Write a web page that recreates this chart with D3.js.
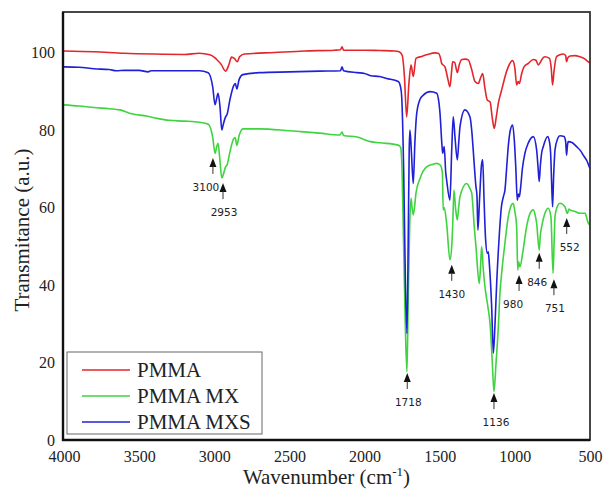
<!DOCTYPE html>
<html lang="en">
<head>
<meta charset="UTF-8">
<title>FTIR PMMA</title>
<script src="https://cdn.jsdelivr.net/npm/d3@7"></script>
<style>
    body { margin: 0; background: #fff; }
</style>
</head>
<body>
<svg width="605" height="490"></svg>
<script>

    // series: wavenumber (cm-1) and transmittance
    const pmmaWave = [4000,3800,3600,3400,3200,3100,3030,2995,2984,2955,2925,2905,2885,2865,2847,2832,2800,2600,2400,2200,2160,2150,2140,2000,1900,1800,1770,1750,1735,1720,1705,1691,1676,1658,1620,1587,1530,1510,1495,1487,1465,1445,1432,1420,1414,1400,1383,1370,1354,1330,1310,1290,1265,1243,1228,1214,1200,1183,1165,1150,1137,1125,1110,1090,1077,1060,1044,1015,1000,988,978,970,955,939,910,877,860,844,830,822,800,770,758,749,740,723,700,678,662,656,648,633,600,567,540,511,500]
    const pmmaT    = [100.4,100.2,99.8,99.6,99.5,99.8,99.4,98.6,98.2,97.0,95.2,96.6,98.8,98.4,97.6,98.9,99.6,100.0,100.4,100.6,100.7,101.5,100.6,100.6,100.5,100.4,100.2,99.3,94,83.4,92,96.8,93.8,98.5,99.0,99.4,99.9,99.8,98.6,97.2,96.3,93,91.2,95.5,97.6,97.4,94.8,96.8,98.2,98.3,98.1,96,92.5,92.0,93.5,94.6,91,87.7,87.3,83,80.4,83,86.9,90,92.0,94.5,96.3,97.9,96,91.6,92.5,92.0,94.5,96.3,97.2,98.2,98,96.8,97.5,98.1,98.9,98.5,96,91.6,95,98.9,99.4,99.6,99.2,97.6,98.6,99.1,99.2,98.9,98.5,97.6,97.3]

    const mxWave = [4000,3900,3800,3700,3627,3550,3450,3380,3300,3200,3100,3040,3010,2995,2985,2975,2962,2950,2940,2925,2915,2895,2870,2860,2850,2835,2810,2700,2500,2430,2300,2165,2150,2140,2050,2000,1960,1897,1776,1760,1753,1740,1728,1718,1710,1700,1691,1684,1676,1665,1658,1631,1587,1540,1520,1498,1490,1482,1477,1470,1454,1432,1420,1414,1405,1395,1383,1374,1365,1321,1300,1287,1270,1258,1237,1228,1221,1210,1199,1183,1176,1165,1150,1139,1125,1110,1099,1088,1066,1044,1025,1011,1000,988,981,975,966,948,922,899,877,862,855,838,830,822,800,778,760,746,738,733,715,700,667,651,640,633,600,567,533,511,500]
    const mxT    = [86.5,86.2,85.8,85.5,85.2,84.2,83.6,83.0,82.5,82.3,82,81.5,78,74,75.5,76.6,72,67.6,68.5,70.5,71,74.5,77.8,78,76,78.5,80.3,80.3,79.8,79.6,79.2,78.7,79.5,78.6,78.2,77.5,77.0,76.7,76.1,75.5,72,50,28,17.6,35,55,62.4,60,58.1,61,63.7,67.5,70.5,71.2,71.4,71.0,70.5,68.8,59.4,60,55.9,46.5,50,55.0,64.5,60,56.8,60,62.8,66.2,65,63.7,55,49.5,40.4,45,49.9,44,39.6,35.3,33.5,30,20,12.5,20,29.2,38,43,50.8,57.6,60.5,61.1,59,55,43.9,46,44.7,48.2,55,58.5,59.4,57.5,55.9,49,53,55,58.5,59.8,57.6,43,52,57.6,60.5,61.1,60.2,58.5,59.6,59.4,59,58.5,58.5,55.9,55.5]

    const mxsWave = [4000,3900,3800,3700,3650,3600,3500,3440,3420,3300,3100,3040,3010,2995,2985,2975,2962,2950,2940,2925,2915,2895,2870,2860,2850,2835,2810,2700,2500,2300,2160,2150,2140,2050,2000,1960,1900,1853,1776,1760,1753,1740,1728,1718,1710,1703,1698,1688,1676,1665,1653,1630,1609,1565,1520,1505,1498,1485,1480,1470,1460,1454,1432,1420,1410,1398,1383,1373,1365,1332,1299,1285,1277,1259,1252,1246,1235,1222,1214,1205,1195,1183,1177,1170,1155,1143,1132,1121,1105,1090,1075,1066,1055,1044,1030,1015,1003,993,984,977,970,962,950,933,911,877,855,845,838,830,822,811,782,770,762,755,749,742,733,715,700,673,662,656,650,645,620,589,560,545,520,505,500]
    const mxsT    = [96.3,96.2,95.8,95.6,95.3,95.4,95.4,95.0,95.3,95.3,95.3,94.8,91,86.5,88,89.5,86,80,81.5,83.4,84,88,91.5,92,90.6,93,94.3,94.8,95.0,95.2,95.3,96.3,95.3,94.8,94.6,94.0,93.8,93.3,92.5,91,88.6,70,40,27.5,50,75,80,74,66.2,77,84.3,88,89,89.9,89.5,87,84.3,76,74,75.7,69,67.1,61.9,75,83.4,78,72.3,77,80.9,85.2,83.4,79,74.8,65.4,63,54.2,62,71,72.3,62,52,48.2,48.6,45.6,35,22.4,30,40.4,52,60,63,64.5,70,75.7,80,81.3,77,69.7,61.9,63.5,62.8,65,70,74,76.6,78.3,74.8,70,66.7,71,74,75.7,78.3,77,74,66,60.2,68,74.8,77.8,78.5,78.3,77,73.5,76,77,76.8,75.7,74.5,73.5,72,70.5,70]

    const seriesNames = ["PMMA", "PMMA MX", "PMMA MXS"]
    const seriesColors = ["#e3262b", "#3fd43f", "#2020d6"]

    // band labels with the arrow tip position (wavenumber, transmittance)
    const bandLabels = ["3100","2953","1718","1136","1430","980","846","751","552"]
    const bandWave   = [3009,2942,1716,1139,1420,972,838,740,655]
    const bandTip    = [72.8,66.3,17.3,12.1,45.2,42.6,48.3,41.5,57.3]
    const bandShift  = [-7,1,1,2,0,-6,-2,1,3]

    const xTicks = [4000,3500,3000,2500,2000,1500,1000,500]
    const yTicks = [0,20,40,60,80,100]

    const svg = d3.select("svg")
    const pLeft = 63, pRight = 590, pTop = 12, pBottom = 440

    const x = d3.scaleLinear().domain([4000, 500]).range([64, 590])
    const y = d3.scaleLinear().domain([0, 110.3]).range([pBottom, 12.6])

    const serif = "'Liberation Serif', 'Times New Roman', serif"

    // axes (labels only, no tick marks)
    const xAxis = svg.append("g")
        .attr("transform", `translate(0,${pBottom})`)
        .call(d3.axisBottom(x).tickValues(xTicks).tickSize(0).tickPadding(11).tickFormat(d3.format("d")))
    const yAxis = svg.append("g")
        .attr("transform", `translate(${pLeft},0)`)
        .call(d3.axisLeft(y).tickValues(yTicks).tickSize(0).tickPadding(8))
    for (const ax of [xAxis, yAxis]) {
        ax.select(".domain").remove()
        ax.selectAll("text").attr("font-family", serif).attr("font-size", 16).attr("fill", "#222")
    }

    const line = d3.line()
        .x(d => x(d[0]))
        .y(d => y(d[1]))
        .curve(d3.curveMonotoneX)

    const zipped = [
        d3.zip(pmmaWave, pmmaT),
        d3.zip(mxWave, mxT),
        d3.zip(mxsWave, mxsT)
    ]
    const plot = svg.append("g")
    // green first, then red, blue on top
    ;[1, 0, 2].forEach(i => {
        plot.append("path")
            .attr("d", line(zipped[i]))
            .attr("fill", "none")
            .attr("stroke", seriesColors[i])
            .attr("stroke-width", 1.6)
            .attr("stroke-linejoin", "round")
    })

    // frame
    svg.append("rect")
        .attr("x", pLeft).attr("y", pTop)
        .attr("width", pRight - pLeft).attr("height", pBottom - pTop)
        .attr("fill", "none").attr("stroke", "#333").attr("stroke-width", 1.8)
    svg.append("path")
        .attr("d", `M${pLeft},${pTop}V${pBottom}H${pRight}`)
        .attr("fill", "none").attr("stroke", "#111").attr("stroke-width", 2.4)

    // band arrows
    const bands = svg.append("g")
    bandLabels.forEach((lab, i) => {
        const bx = x(bandWave[i]), by = y(bandTip[i])
        const g = bands.append("g").attr("transform", `translate(${bx},${by})`)
        g.append("path").attr("d", "M0,0L-3.5,9L3.5,9Z").attr("fill", "#111")
        g.append("line").attr("x1", 0).attr("x2", 0).attr("y1", 8).attr("y2", 16)
            .attr("stroke", "#333").attr("stroke-width", 1)
        g.append("text")
            .attr("x", bandShift[i]).attr("y", 29)
            .attr("dy", "0.35em")
            .attr("text-anchor", "middle")
            .attr("font-family", "'DejaVu Sans', Verdana, sans-serif")
            .attr("font-size", 10.5)
            .attr("fill", "#222")
            .text(lab)
    })

    // legend
    const legend = svg.append("g")
    legend.append("rect")
        .attr("x", 67).attr("y", 352).attr("width", 195).attr("height", 82)
        .attr("fill", "#fff").attr("stroke", "#666").attr("stroke-width", 1)
    seriesNames.forEach((name, i) => {
        const ly = 370 + i * 26
        legend.append("line")
            .attr("x1", 82).attr("x2", 130).attr("y1", ly).attr("y2", ly)
            .attr("stroke", seriesColors[i]).attr("stroke-width", 1.5)
        legend.append("text")
            .attr("x", 137).attr("y", ly).attr("dy", "0.35em")
            .attr("font-family", serif).attr("font-size", 21).attr("fill", "#222")
            .text(name)
    })

    // axis titles
    svg.append("text")
        .attr("transform", `translate(29,${(pTop + pBottom) / 2 + 4}) rotate(-90)`)
        .attr("text-anchor", "middle")
        .attr("font-family", serif).attr("font-size", 21).attr("fill", "#222")
        .text("Transmitance (a.u.)")
    const xt = svg.append("text")
        .attr("x", (pLeft + pRight) / 2).attr("y", 484)
        .attr("text-anchor", "middle")
        .attr("font-family", serif).attr("font-size", 21).attr("fill", "#222")
    xt.append("tspan").text("Wavenumber (cm")
    xt.append("tspan").attr("font-size", 13).attr("dy", -8).text("-1")
    xt.append("tspan").attr("dy", 8).text(")")

</script>
</body>
</html>
